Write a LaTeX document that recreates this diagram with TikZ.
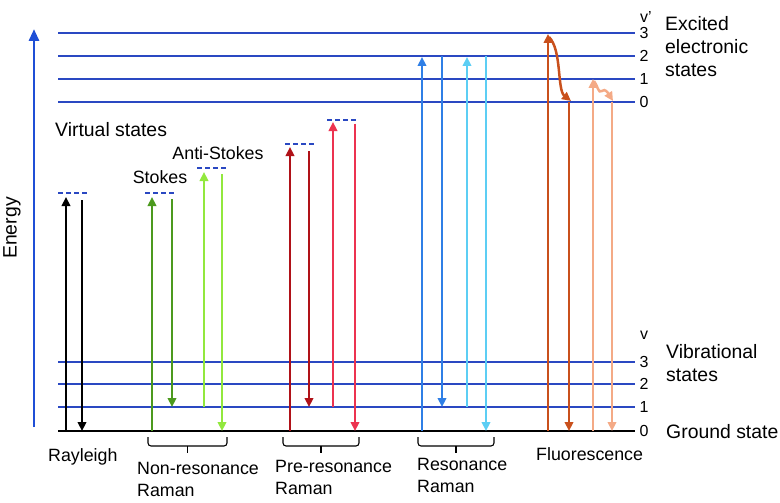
\documentclass[tikz,border=0pt]{standalone}
\usepackage{fontspec}
\setmainfont{Liberation Sans}
\usetikzlibrary{arrows.meta}
\definecolor{lvlblue}{HTML}{2A48C2}
\definecolor{enblue}{HTML}{1F4FD6}
\definecolor{stgreen}{HTML}{4C9A1E}
\definecolor{asgreen}{HTML}{92E83E}
\definecolor{prred}{HTML}{B01218}
\definecolor{prpink}{HTML}{EC3350}
\definecolor{rsblue}{HTML}{2F7FE6}
\definecolor{rscyan}{HTML}{5CCEF4}
\definecolor{flor}{HTML}{C9501C}
\definecolor{flpeach}{HTML}{F4AA86}
\begin{document}
\begin{tikzpicture}[x=1pt,y=-1pt,
  lvl/.style={draw=lvlblue, line width=1.5pt},
  arr/.style={line width=2.5pt, -{Triangle[length=9pt,width=8.5pt]}},
  virt/.style={draw=lvlblue, line width=1.8pt, dash pattern=on 5pt off 3pt},
  lbl/.style={font=\fontsize{17.8}{22}\selectfont, inner sep=0pt, align=left},
  big/.style={font=\fontsize{19.4}{23}\selectfont, inner sep=0pt, align=left},
  num/.style={font=\fontsize{16}{16}\selectfont, inner sep=0pt},
  brc/.style={line width=1.1pt, rounded corners=3pt}
]
\useasboundingbox (0,0) rectangle (780,503);

% energy levels
\foreach \y/\n in {33/3,56/2,79/1,102/0}{
  \coordinate (eL\n) at (58,\y); \coordinate (eR\n) at (635,\y);
  \draw[lvl] (eL\n) -- (eR\n);
  \node[num] (en\n) at (644,\y) {\n};
}
\foreach \y/\n in {362/3,384/2,407/1}{
  \coordinate (gL\n) at (58,\y); \coordinate (gR\n) at (635,\y);
  \draw[lvl] (gL\n) -- (gR\n);
  \node[num] (gn\n) at (644,\y) {\n};
}
\coordinate (gL0) at (58,431); \coordinate (gR0) at (635,431);
\draw[line width=1.8pt] (gL0) -- (gR0);
\node[num] (gn0) at (644,431) {0};
\node[num] (vprime) at (646,17) {v\char"27};
\node[num] (vlow) at (644,335) {v};

% energy axis
\coordinate (ea) at (34,427); \coordinate (eb) at (34,29);
\draw[enblue, line width=2.8pt, -{Triangle[length=12pt,width=10pt]}] (ea) -- (eb);
\node[big, rotate=90] (energy) at (12,228) {Energy};

% virtual states
\foreach \a/\b/\y/\n in {58/89/193/r,145/175/193/s,197/228/168/a,285/316/144/p,327/357/120/q}{
  \coordinate (v\n1) at (\a,\y); \coordinate (v\n2) at (\b,\y);
  \draw[virt] (v\n1) -- (v\n2);
}

% arrows
\foreach \x/\ya/\yb/\c/\n in {
  66/431/197/black/ra, 82/200/431/black/rb,
  152/431/197/stgreen/sa, 172/199/407/stgreen/sb,
  204/407/172/asgreen/aa, 222/174/431/asgreen/ab,
  290/431/147/prred/pa, 309/151/407/prred/pb,
  333/407/122/prpink/qa, 355/124/431/prpink/qb,
  422/431/57/rsblue/ra2, 442/56/407/rsblue/rb2,
  467/407/57/rscyan/ca, 486/56/431/rscyan/cb,
  548/431/34/flor/fa, 569/102/431/flor/fb,
  593/431/79/flpeach/la, 612/102/431/flpeach/lb}{
  \coordinate (\n s) at (\x,\ya); \coordinate (\n e) at (\x,\yb);
  \draw[arr, draw=\c, fill=\c] (\n s) -- (\n e);
}
% relaxation curves
\coordinate (fc1) at (549,37); \coordinate (fc2) at (571,101);
\draw[arr, draw=flor] (fc1) .. controls (562,50) and (557,90) .. (fc2);
\coordinate (lc1) at (594,81); \coordinate (lcm) at (602,91); \coordinate (lc2) at (613,101);
\draw[arr, draw=flpeach] (lc1) .. controls (598,86) and (598,94) .. (lcm)
  .. controls (605,88) and (608,93) .. (lc2);

% braces
\foreach \a/\b/\n in {148/227/1,283/359/2,418/494/3}{
  \coordinate (b\n a) at (\a,437); \coordinate (b\n b) at (\b,437);
  \coordinate (b\n m) at ({(\a+\b)/2},446);
  \draw[brc] (b\n a) |- (b\n m) -| (b\n b);
  \draw[line width=1.1pt] (b\n m) -- ++(0,7);
}

% labels
\node[big, anchor=base west] (virtlbl) at (55,136) {Virtual states};
\node[lbl, anchor=base] (stokes) at (160,183) {Stokes};
\node[lbl, anchor=base] (astokes) at (218,159) {Anti-Stokes};
\node[lbl, anchor=base west] (rayl) at (48,461) {Rayleigh};
\node[lbl, anchor=north west] (nonres) at (137,462) {Non-resonance\\Raman};
\node[lbl, anchor=north west] (preres) at (275,460) {Pre-resonance\\Raman};
\node[lbl, anchor=north west] (res) at (417,458) {Resonance\\Raman};
\node[lbl, anchor=base west] (fluo) at (536,460) {Fluorescence};
\node[big, anchor=north west] (excited) at (665,16) {Excited\\electronic\\states};
\node[big, anchor=north west] (vib) at (666,344) {Vibrational\\states};
\node[big, anchor=base west] (ground) at (666,438) {Ground state};
\end{tikzpicture}
\end{document}
